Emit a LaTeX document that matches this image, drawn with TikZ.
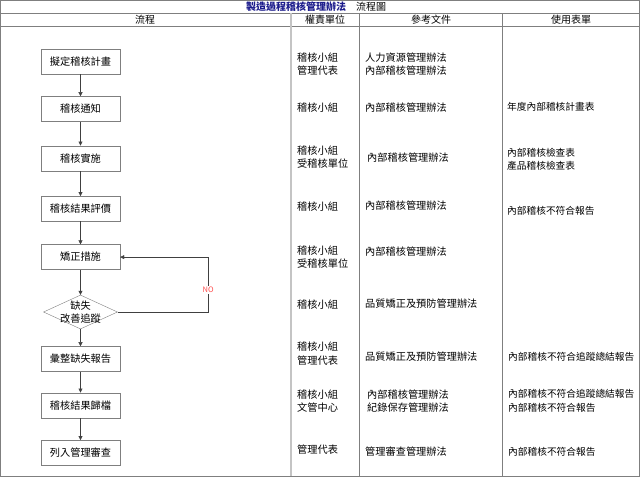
\documentclass[tikz,border=0pt]{standalone}
\usepackage{fontspec}
\setmainfont{Noto Sans CJK TC}
\usetikzlibrary{arrows.meta,positioning,shapes.geometric}
\definecolor{rulegray}{HTML}{7F7F7F}
\definecolor{sepgray}{HTML}{C4C4C4}
\definecolor{titleblue}{HTML}{1C1C8C}
\definecolor{nored}{HTML}{FF4D4D}

\begin{document}
\begin{tikzpicture}[x=1pt, y=-1pt, >={Triangle[length=4pt,width=4pt]}, font=\fontsize{10.2}{13.5}\selectfont, node distance=22pt,
  stepbox/.style={draw=rulegray, minimum width=79pt, minimum height=25pt, inner sep=0pt},
  decision/.style={draw=rulegray, diamond, minimum width=74pt, minimum height=34pt, inner sep=0pt},
  cell/.style={anchor=west, align=left, inner sep=0pt},
  formcell/.style={cell, font=\fontsize{9.7}{13.5}\selectfont},
  head/.style={inner sep=0pt, font=\fontsize{10}{12}\selectfont},
  flow/.style={->, draw=black!75}]
  \useasboundingbox (0,0) rectangle (640,477);
  % table frame
  \draw[rulegray] (0.5,0.5) rectangle (639.5,476.5);
  \draw[rulegray] (0.5,13) -- (639.5,13) (0.5,26) -- (639.5,26);
  \draw[sepgray, line width=2pt] (291,13) -- (291,476);
  \draw[rulegray] (359.5,13) -- (359.5,476.5) (502,13) -- (502,476.5);
  \node[head] (title) at (316,7) {\textcolor{titleblue}{\bfseries 製造過程稽核管理辦法}\hspace{10pt}流程圖};
  \node[head] (h1) at (145,19.5) {流程};
  \node[head] (h2) at (325,19.5) {權責單位};
  \node[head] (h3) at (431,19.5) {參考文件};
  \node[head] (h4) at (571,19.5) {使用表單};

  % flow
  \node[stepbox] (a) at (80.5,61.5) {擬定稽核計畫};
  \node[stepbox, below=of a] (b) {稽核通知};
  \node[stepbox, below=24pt of b] (c) {稽核實施};
  \node[stepbox, below=25pt of c] (d) {稽核結果評價};
  \node[stepbox, below=23pt of d] (e) {矯正措施};
  \node[decision, below=25pt of e, label={[align=center, inner sep=0pt]center:缺失\\改善追蹤}] (f) {};
  \node[stepbox, below=17pt of f] (g) {彙整缺失報告};
  \node[stepbox, below=21pt of g] (h) {稽核結果歸檔};
  \node[stepbox, below=of h] (i) {列入管理審查};
  \draw[flow] (a) -- (b); \draw[flow] (b) -- (c); \draw[flow] (c) -- (d);
  \draw[flow] (d) -- (e); \draw[flow] (e) -- (f); \draw[flow] (f) -- (g);
  \draw[flow] (g) -- (h); \draw[flow] (h) -- (i);
  \draw[flow] (f.east) -- ++(90.5pt,0) |- node[pos=0.2, fill=white, inner sep=1pt, text=nored, font=\fontsize{7.5}{8}\selectfont] (no) {NO} (e.east);

  % units
  \node[cell] (u1) at (297,64) {稽核小組\\管理代表};
  \node[cell] (u2) at (297,108) {稽核小組};
  \node[cell] (u3) at (297,157) {稽核小組\\受稽核單位};
  \node[cell] (u4) at (297,207) {稽核小組};
  \node[cell] (u5) at (297,257) {稽核小組\\受稽核單位};
  \node[cell] (u6) at (297,305) {稽核小組};
  \node[cell] (u7) at (297,353.5) {稽核小組\\管理代表};
  \node[cell] (u8) at (297,401) {稽核小組\\文管中心};
  \node[cell] (u9) at (297,450) {管理代表};
  % documents
  \node[cell] (d1) at (365,64) {人力資源管理辦法\\內部稽核管理辦法};
  \node[cell] (d2) at (365,108) {內部稽核管理辦法};
  \node[cell] (d3) at (367,158) {內部稽核管理辦法};
  \node[cell] (d4) at (365,206) {內部稽核管理辦法};
  \node[cell] (d5) at (365,252) {內部稽核管理辦法};
  \node[cell] (d6) at (365,304) {品質矯正及預防管理辦法};
  \node[cell] (d7) at (365,357) {品質矯正及預防管理辦法};
  \node[cell] (d8) at (367,401) {內部稽核管理辦法\\紀錄保存管理辦法};
  \node[cell] (d9) at (365,452) {管理審查管理辦法};
  % forms
  \node[formcell] (f2) at (507,107) {年度內部稽核計畫表};
  \node[formcell] (f3) at (507,159.5) {內部稽核檢查表\\產品稽核檢查表};
  \node[formcell] (f4) at (507,211) {內部稽核不符合報告};
  \node[formcell] (f7) at (508,357) {內部稽核不符合追蹤總結報告};
  \node[formcell] (f8) at (508,401) {內部稽核不符合追蹤總結報告\\內部稽核不符合報告};
  \node[formcell] (f9) at (508,452) {內部稽核不符合報告};
\end{tikzpicture}
\end{document}
